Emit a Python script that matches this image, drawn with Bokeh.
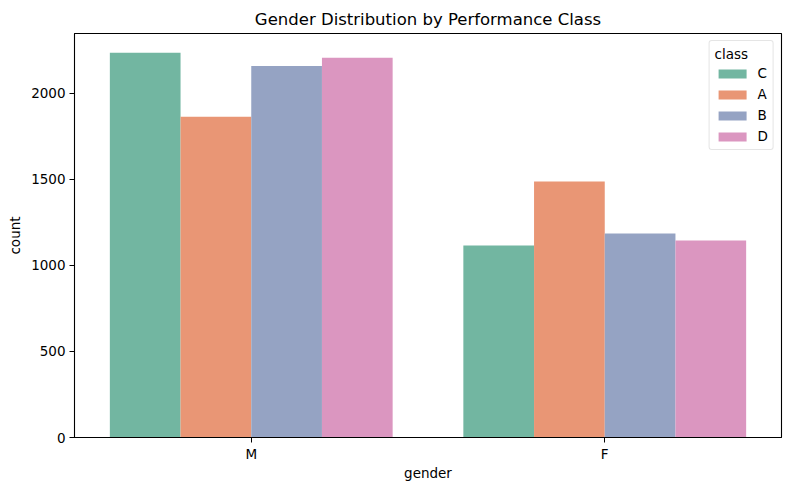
from bokeh.plotting import figure
from bokeh.models import ColumnDataSource, FactorRange, Range1d, FixedTicker, Legend, LegendItem, Label
from bokeh.transform import dodge
from bokeh.embed import file_html
from bokeh.resources import INLINE

genders = ["M", "F"]
classes = ["C", "A", "B", "D"]
counts_C = [2234, 1115]
counts_A = [1863, 1486]
counts_B = [2158, 1184]
counts_D = [2205, 1144]
colors = ["#72b6a1", "#e99675", "#95a3c3", "#db96c0"]
y_ticks = [0, 500, 1000, 1500, 2000]

FONT = "DejaVu Sans"

source = ColumnDataSource(dict(gender=genders, C=counts_C, A=counts_A, B=counts_B, D=counts_D))

p = figure(
    x_range=FactorRange(*genders),
    y_range=Range1d(0, 2346),
    frame_width=707, frame_height=404,
    min_border_left=74, min_border_right=8, min_border_top=33, min_border_bottom=52,
    output_backend="svg", toolbar_location=None,
    title="Gender Distribution by Performance Class",
)

p.title.text_font = FONT
p.title.text_font_size = "16.5px"
p.title.text_font_style = "normal"
p.title.text_color = "black"
p.title.align = "center"
p.title.standoff = 9

offsets = [-0.3, -0.1, 0.1, 0.3]
items = []
for cls, off, col in zip(classes, offsets, colors):
    r = p.vbar(x=dodge("gender", off, range=p.x_range), top=cls, width=0.2,
               source=source, fill_color=col, line_color=None)
    items.append(LegendItem(label=cls, renderers=[r]))

legend = Legend(items=items, location="top_right", title="class")
legend.title_text_font = FONT
legend.title_text_font_size = "13.5px"
legend.title_text_font_style = "normal"
legend.title_text_color = "black"
legend.title_standoff = 3
legend.label_text_font = FONT
legend.label_text_font_size = "13.5px"
legend.label_text_color = "black"
legend.glyph_width = 35
legend.glyph_height = 11
legend.label_height = 13
legend.label_width = 9
legend.label_standoff = 8
legend.spacing = 5
legend.padding = 5
legend.margin = 7
legend.border_line_color = "#cccccc"
legend.border_line_width = 1
legend.border_radius = 3
legend.background_fill_alpha = 0.8
p.add_layout(legend)

p.xgrid.grid_line_color = None
p.ygrid.grid_line_color = None
p.outline_line_color = "black"
p.outline_line_width = 1.1
p.outline_line_alpha = 1

p.yaxis.ticker = FixedTicker(ticks=y_ticks)
p.yaxis.minor_tick_line_color = None
p.yaxis.axis_label = "count"
p.xaxis.axis_label = "gender"
for ax in (p.xaxis, p.yaxis):
    ax.axis_label_text_font = FONT
    ax.axis_label_text_font_size = "13.5px"
    ax.axis_label_text_font_style = "normal"
    ax.axis_label_text_color = "black"
    ax.major_label_text_font = FONT
    ax.major_label_text_font_size = "13.5px"
    ax.major_label_text_color = "black"
    ax.axis_line_color = "black"
    ax.major_tick_line_color = "black"
    ax.major_tick_out = 5
    ax.major_tick_in = 0
    ax.major_label_standoff = 4
p.yaxis.axis_label_standoff = 5
p.xaxis.major_label_standoff = 3
p.xaxis.axis_label_standoff = 0

# faint watermark of the source image, drawn on top in canvas coordinates
p.add_layout(Label(x=391, y=453, x_units="canvas", y_units="canvas", text="نفذلي",
                   text_align="center", text_baseline="middle",
                   text_font=FONT, text_font_size="26px", text_font_style="bold",
                   text_color="#d9d9d9", text_alpha=0.6, level="overlay"))
p.add_layout(Label(x=390, y=480, x_units="canvas", y_units="canvas", text="nafezly.com",
                   text_align="center", text_baseline="middle",
                   text_font=FONT, text_font_size="14px", text_color="#d9d9d9",
                   text_alpha=0.6, level="overlay"))

open("out.html", "w").write(file_html(p, INLINE))
